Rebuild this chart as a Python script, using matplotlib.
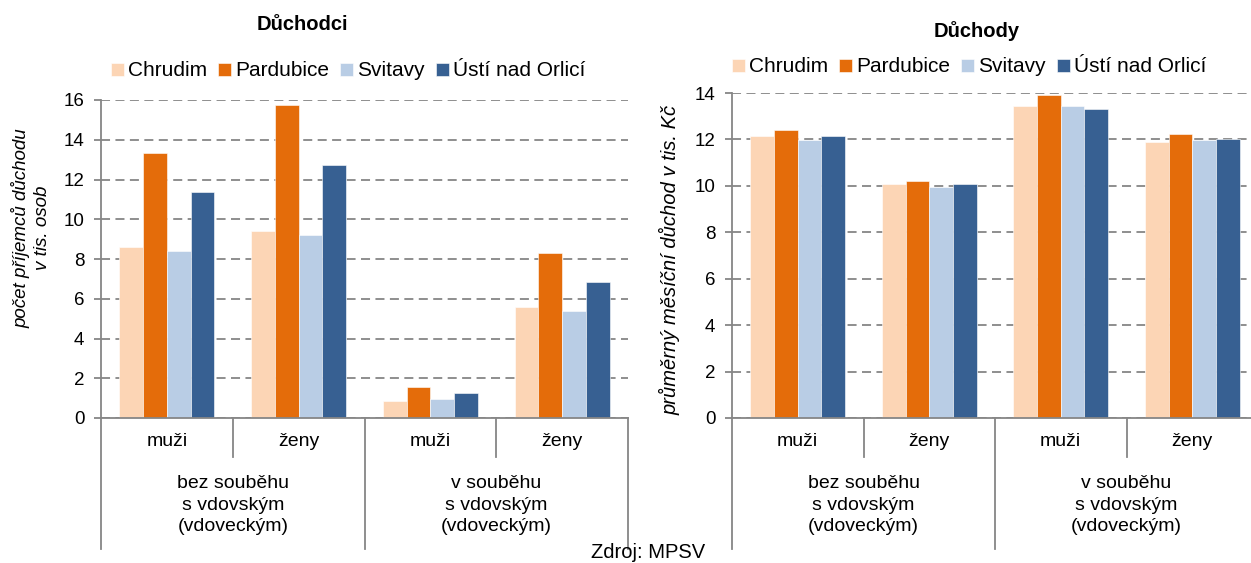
import matplotlib.pyplot as plt
from matplotlib.transforms import blended_transform_factory

plt.rcParams["font.family"] = ["Liberation Sans", "DejaVu Sans"]

# data
districts = ["Chrudim", "Pardubice", "Svitavy", "Ústí nad Orlicí"]
colors = ["#FCD5B5", "#E46C0A", "#B9CDE5", "#376092"]
sex_labels = ["muži", "ženy", "muži", "ženy"]
group_labels = ["bez souběhu\ns vdovským\n(vdoveckým)",
                "v souběhu\ns vdovským\n(vdoveckým)"]

# Důchodci - počet příjemců (tis. osob)
recipients = {
    "Chrudim": [8.62, 9.39, 0.88, 5.57],
    "Pardubice": [13.32, 15.77, 1.57, 8.32],
    "Svitavy": [8.42, 9.21, 0.98, 5.39],
    "Ústí nad Orlicí": [11.36, 12.73, 1.28, 6.85],
}
# Důchody - průměrný měsíční důchod (tis. Kč)
pensions = {
    "Chrudim": [12.16, 10.06, 13.42, 11.91],
    "Pardubice": [12.40, 10.23, 13.91, 12.24],
    "Svitavy": [11.98, 9.97, 13.42, 11.98],
    "Ústí nad Orlicí": [12.16, 10.06, 13.32, 12.01],
}

W, H = 1251, 563
fig = plt.figure(figsize=(W / 100, H / 100), dpi=100)

GRAY = "#868686"
FS = 13.5
CAT_FS = 14


def fy(py):
    return 1 - py / H


def draw_panel(rect, values, ymax, title, title_xy, ylabel, ylabel_xy,
               ylabel_fs, leg_xy):
    ax = fig.add_axes(rect)
    bw = 0.18
    for k, name in enumerate(districts):
        xs = [i + 0.5 + (k - 1.5) * bw for i in range(4)]
        ax.bar(xs, values[name], width=bw, color=colors[k], label=name,
               edgecolor="white", linewidth=0.4, zorder=2)
    ax.set_xlim(0, 4)
    ax.set_ylim(0, ymax)
    ax.set_yticks(range(0, ymax + 1, 2))
    ax.set_xticks([])
    ax.yaxis.grid(True, color=GRAY, linestyle=(0, (5, 3)), linewidth=1.3)
    ax.set_axisbelow(True)
    for s in ["top", "right"]:
        ax.spines[s].set_visible(False)
    for s in ["left", "bottom"]:
        ax.spines[s].set_color(GRAY)
        ax.spines[s].set_linewidth(1.3)
    ax.tick_params(axis="y", colors=GRAY, labelcolor="black", labelsize=FS,
                   length=5, width=1.3, pad=7)

    tr = blended_transform_factory(ax.transData, fig.transFigure)
    # category separators
    for x in [1, 3]:
        ax.plot([x, x], [fy(418), fy(457)], color=GRAY, lw=1.3,
                transform=tr, clip_on=False)
    for x in [0, 2, 4]:
        ax.plot([x, x], [fy(418), fy(549)], color=GRAY, lw=1.3,
                transform=tr, clip_on=False)
    for i, lab in enumerate(sex_labels):
        ax.text(i + 0.5, fy(441), lab, transform=tr, ha="center",
                va="center", fontsize=CAT_FS)
    for j, lab in enumerate(group_labels):
        ax.text(2 * j + 1, fy(505), lab, transform=tr, ha="center",
                va="center", fontsize=CAT_FS, linespacing=1.33)

    fig.text(title_xy[0] / W, fy(title_xy[1]), title, ha="center",
             va="center", fontsize=14.5, fontweight="bold")
    fig.text(ylabel_xy[0] / W, fy(ylabel_xy[1]), ylabel, ha="center",
             va="center", rotation=90, fontsize=ylabel_fs, style="italic",
             linespacing=1.3)
    ax.legend(loc="center left", bbox_to_anchor=(leg_xy[0] / W, fy(leg_xy[1])),
              bbox_transform=fig.transFigure, ncol=4, frameon=False,
              fontsize=15, handlelength=0.6, handleheight=0.6,
              handletextpad=0.2, columnspacing=0.55, borderaxespad=0,
              borderpad=0)
    return ax


draw_panel([101 / W, fy(418), 527 / W, 318 / H], recipients, 16,
           "Důchodci", (302, 25),
           "počet příjemců důchodu\nv tis. osob", (31, 228), 13.5, (111, 71))
draw_panel([732 / W, fy(418), 526 / W, 325 / H], pensions, 14,
           "Důchody", (977, 31),
           "průměrný měsíční důchod v tis. Kč", (670, 260), 14.5, (732, 67))

fig.text(648 / W, fy(553), "Zdroj: MPSV", ha="center", va="center",
         fontsize=14.5)

fig.savefig("out.png", dpi=100)
